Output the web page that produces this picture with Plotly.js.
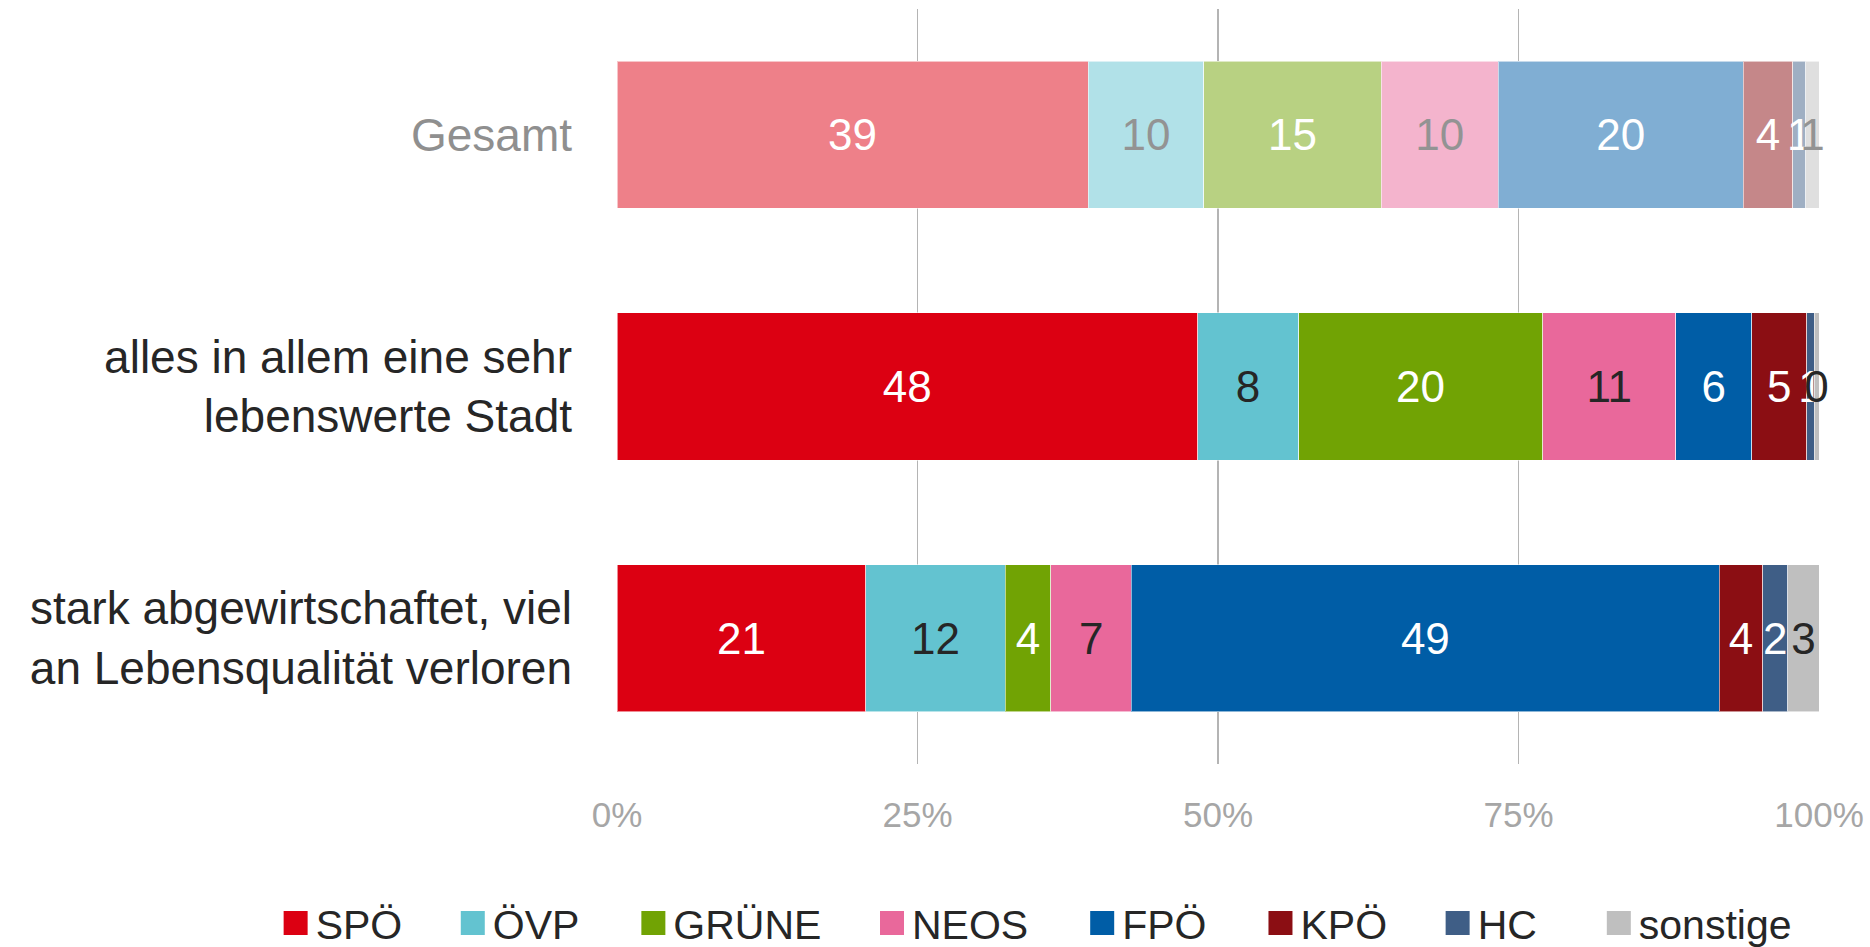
<!DOCTYPE html>
<html>
<head>
<meta charset="utf-8">
<script src="https://cdn.plot.ly/plotly-3.0.1.min.js"></script>
<style>
  html, body { margin: 0; padding: 0; background: #ffffff; }
  #chart { width: 1870px; height: 947px; }
</style>
</head>
<body>
<div id="chart"></div>
<script>
// ---- data ----
const categories = [
  "Gesamt",
  "alles in allem eine sehr<br>lebenswerte Stadt",
  "stark abgewirtschaftet, viel<br>an Lebensqualität verloren"
];
const categoryTickText = [
  '<span style="color:#8f8f8f">Gesamt</span>',
  "alles in allem eine sehr<br>lebenswerte Stadt",
  "stark abgewirtschaftet, viel<br>an Lebensqualität verloren"
];
const parties = ["SPÖ", "ÖVP", "GRÜNE", "NEOS", "FPÖ", "KPÖ", "HC", "sonstige"];
const SPOE     = [39.2, 48.3, 20.7];
const OEVP     = [9.6, 8.4, 11.6];
const GRUENE   = [14.8, 20.3, 3.8];
const NEOS     = [9.7, 11.1, 6.7];
const FPOE     = [20.4, 6.3, 48.9];
const KPOE     = [4.1, 4.6, 3.6];
const HC       = [1.1, 0.6, 2.1];
const SONSTIGE = [1.1, 0.4, 2.6];
const seriesValues = [SPOE, OEVP, GRUENE, NEOS, FPOE, KPOE, HC, SONSTIGE];
const xTickVals = [0, 25, 50, 75, 100];
const xTickText = ["0%", "25%", "50%", "75%", "100%"];

// ---- styles ----
const colors = ["#dc0012", "#63c3d0", "#71a304", "#e9689b", "#005da6", "#8b0e13", "#3f5e86", "#bfbfbf"];
const darkText = "#262626";
const lightDark = "#939393";
const labelIsDark = [false, true, false, true, false, false, false, true];
const FONT = "Liberation Sans, Arial, sans-serif";
const NB = "\u00a0";
const HS = "\u200a";
const padCounts = [4, 4, 4, 4, 4, 4, 5, 0];
const hairCounts = [0, 1, 0, 1, 1, 0, 0, 0];

function lighten(hex) {
  const r = parseInt(hex.slice(1, 3), 16), g = parseInt(hex.slice(3, 5), 16), b = parseInt(hex.slice(5, 7), 16);
  const m = v => Math.round(v + (255 - v) * 0.5);
  return "rgb(" + m(r) + "," + m(g) + "," + m(b) + ")";
}

const traces = parties.map((p, i) => {
  const tc = labelIsDark[i] ? [lightDark, darkText, darkText] : ["#ffffff", "#ffffff", "#ffffff"];
  return {
    type: "bar",
    orientation: "h",
    name: p + NB.repeat(padCounts[i]) + HS.repeat(hairCounts[i]),
    y: categories,
    x: seriesValues[i],
    width: 0.585,
    marker: {
      color: [lighten(colors[i]), colors[i], colors[i]],
      line: { color: "rgba(255,255,255,0.55)", width: 1 }
    },
    texttemplate: "%{x:.0f}",
    textposition: "inside",
    insidetextanchor: "middle",
    textangle: 0,
    textfont: { family: FONT, size: 44, color: tc },
    cliponaxis: false,
    hoverinfo: "skip"
  };
});

const layout = {
  width: 1870,
  height: 947,
  barmode: "stack",
  paper_bgcolor: "#ffffff",
  plot_bgcolor: "#ffffff",
  margin: { l: 617, r: 51, t: 9, b: 183, pad: 0, autoexpand: false },
  font: { family: FONT, color: darkText },
  uniformtext: { mode: "show", minsize: 44 },
  xaxis: {
    range: [0, 100],
    tickvals: xTickVals,
    ticktext: xTickText,
    showgrid: true,
    gridcolor: "#b4b4b4",
    gridwidth: 1.5,
    zeroline: false,
    showline: false,
    ticks: "",
    ticklabelstandoff: 27,
    tickfont: { family: FONT, size: 35, color: "#a6a6a6" },
    fixedrange: true
  },
  yaxis: {
    type: "category",
    categoryorder: "array",
    categoryarray: categories,
    tickvals: categories,
    ticktext: categoryTickText,
    range: [2.5, -0.5],
    showgrid: false,
    zeroline: false,
    showline: false,
    ticks: "",
    ticklabelstandoff: 44,
    tickfont: { family: FONT, size: 46, color: darkText },
    fixedrange: true
  },
  showlegend: true,
  legend: {
    orientation: "h",
    x: -0.284,
    xanchor: "left",
    y: -0.211,
    yanchor: "middle",
    font: { family: FONT, size: 41, color: darkText },
    traceorder: "normal",
    itemclick: false,
    itemdoubleclick: false
  }
};

function fixLegend() {
  document.querySelectorAll(".legend .traces").forEach((g, k) => {
    const path = g.querySelector(".legendpoints path");
    if (!path) return;
    const t = path.getAttribute("transform") || "";
    if (t.indexOf("scale") < 0) path.setAttribute("transform", t + " scale(2.0)");
    path.style.strokeWidth = "0px";
    if (colors[k]) path.style.fill = colors[k];
  });
}

Plotly.newPlot("chart", traces, layout, { displayModeBar: false, staticPlot: true }).then(fixLegend);
</script>
</body>
</html>
